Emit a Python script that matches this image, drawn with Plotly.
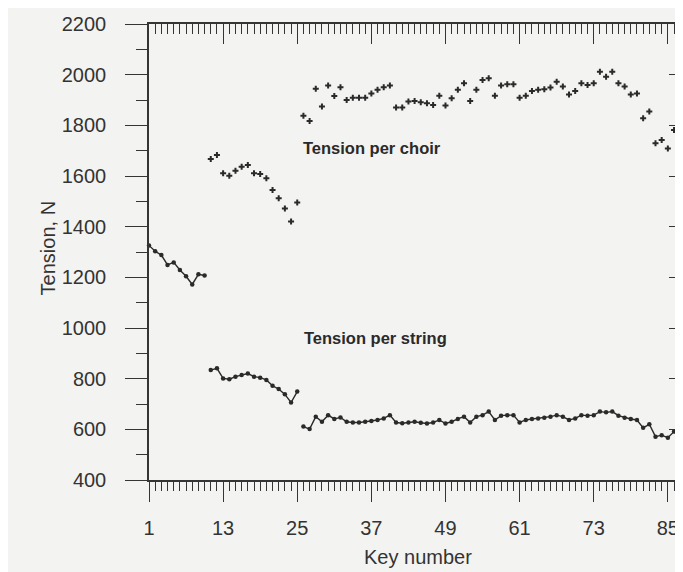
import plotly.graph_objects as go

# ---- data ----
keys_mono = list(range(1, 11))
tension_mono = [1326, 1303, 1288, 1249, 1259, 1229, 1204, 1172, 1212, 1207]

keys_bi = list(range(11, 26))
choir_bi = [1667, 1683, 1611, 1601, 1621, 1637, 1643, 1611, 1608, 1591, 1545, 1512, 1472, 1420, 1495]
string_bi = [834, 841, 801, 798, 808, 814, 820, 808, 804, 795, 772, 759, 738, 706, 749]

keys_tri = list(range(26, 89))
choir_tri = [1838, 1817, 1944, 1874, 1957, 1916, 1950, 1900, 1909, 1909, 1909, 1926, 1940, 1950, 1957,
             1870, 1870, 1894, 1896,
             1891, 1887, 1880, 1917, 1878, 1907, 1940, 1966, 1896, 1940, 1979, 1986, 1917, 1957, 1962,
             1962, 1909, 1917, 1936, 1940, 1942, 1949, 1972, 1953, 1922, 1936, 1966, 1959, 1966, 2012,
             1992, 2012, 1966, 1953, 1922, 1926, 1828, 1855, 1729, 1742, 1709, 1782, 1801, 1808]
string_tri = [611, 601, 650, 630, 656, 641, 647, 630, 627, 627, 630, 633, 637, 643, 656, 627, 624, 627, 630,
              626, 623, 627, 637, 623, 630, 641, 650, 627, 650, 656, 670, 637, 654, 656, 656, 627, 637,
              641, 643, 646, 650, 656, 650, 637, 643, 656, 654, 656, 670, 667, 670, 654, 646, 641, 637,
              606, 620, 571, 577, 567, 591, 597, 601]

x_tickvals = [1, 13, 25, 37, 49, 61, 73, 85]
y_tickvals = [400, 600, 800, 1000, 1200, 1400, 1600, 1800, 2000, 2200]

ink = "#2a2a2a"
axis_col = "#353535"
bg = "#f3f3f1"
font_family = "Liberation Sans, Arial, sans-serif"

fig = go.Figure()

line_style = dict(color=ink, width=1.4)
dot_style = dict(color=ink, size=4.5, symbol="circle")
cross_style = dict(color=ink, size=5, symbol="cross")

# per string (connected)
for xs, ys in [(keys_mono, tension_mono), (keys_bi, string_bi), (keys_tri, string_tri)]:
    fig.add_trace(go.Scatter(x=xs, y=ys, mode="lines+markers", line=line_style,
                             marker=dot_style, showlegend=False, cliponaxis=False))

# per choir (markers only)
for xs, ys in [(keys_bi, choir_bi), (keys_tri, choir_tri)]:
    fig.add_trace(go.Scatter(x=xs, y=ys, mode="markers", marker=cross_style,
                             showlegend=False, cliponaxis=False))

# invisible trace on the mirrored axes
fig.add_trace(go.Scatter(x=[1], y=[400], xaxis="x2", yaxis="y2", mode="markers",
                         marker=dict(opacity=0), showlegend=False, hoverinfo="skip"))

xr = [1, 88.1]
yr = [400, 2200]

fig.update_layout(
    width=683, height=572,
    margin=dict(l=141, r=4, t=16, b=100),
    paper_bgcolor=bg, plot_bgcolor=bg,
    font=dict(family=font_family, color="#333333", size=20),
    xaxis=dict(range=xr, tickvals=x_tickvals, ticktext=[str(v) for v in x_tickvals],
               ticks="outside", ticklen=20, tickwidth=1.2, tickcolor=axis_col,
               minor=dict(dtick=1, tick0=1, ticks="outside", ticklen=9, tickwidth=1, tickcolor=axis_col),
               showline=True, linecolor=axis_col, linewidth=1.5, showgrid=False, zeroline=False,
               tickfont=dict(size=20), ticklabelstandoff=9),
    xaxis2=dict(range=xr, overlaying="x", side="top", anchor="y2", tickvals=x_tickvals,
                ticks="inside", ticklen=20, tickwidth=1.2, tickcolor=axis_col,
                minor=dict(dtick=1, tick0=1, ticks="inside", ticklen=10, tickwidth=1, tickcolor=axis_col),
                showticklabels=False, showline=True, linecolor=axis_col, linewidth=1.5,
                showgrid=False, zeroline=False),
    yaxis=dict(range=yr, tickvals=y_tickvals, ticks="outside", ticklen=22, tickwidth=1.2,
               tickcolor=axis_col,
               minor=dict(dtick=100, tick0=400, ticks="outside", ticklen=11, tickwidth=1, tickcolor=axis_col),
               showline=True, linecolor=axis_col, linewidth=1.5, showgrid=False, zeroline=False,
               tickfont=dict(size=20), ticklabelstandoff=15),
    yaxis2=dict(range=yr, overlaying="y", side="right", anchor="x2", tickvals=y_tickvals,
                ticks="inside", ticklen=18, tickwidth=1.2, tickcolor=axis_col,
                minor=dict(dtick=100, tick0=400, ticks="inside", ticklen=10, tickwidth=1, tickcolor=axis_col),
                showticklabels=False, showline=True, linecolor=axis_col, linewidth=1.5,
                showgrid=False, zeroline=False),
    annotations=[
        dict(text="<b>Tension per choir</b>", x=37.1, y=1710, xref="x", yref="y",
             showarrow=False, font=dict(size=16.5, color="#2a2a2a")),
        dict(text="<b>Tension per string</b>", x=37.6, y=962, xref="x", yref="y",
             showarrow=False, font=dict(size=16.5, color="#2a2a2a")),
        dict(text="Tension, N", textangle=-90, x=-0.212, y=0.51, xref="paper", yref="paper",
             showarrow=False, font=dict(size=20, color="#333333")),
        dict(text="Key number", x=0.5, y=-0.197, xref="paper", yref="paper",
             showarrow=False, font=dict(size=20, color="#333333")),
    ],
)

fig.write_html("out.html")
